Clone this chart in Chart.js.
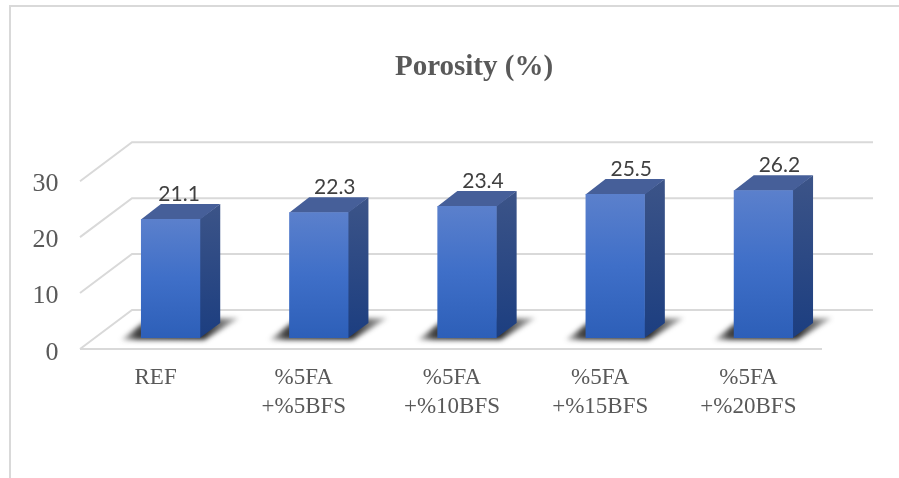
<!DOCTYPE html>
<html>
<head>
<meta charset="utf-8">
<title>Porosity (%)</title>
<script src="https://cdn.jsdelivr.net/npm/chart.js@4/dist/chart.umd.min.js"></script>
<style>
  html, body { margin: 0; padding: 0; background: #fff; overflow: hidden; }
  #frame { position: absolute; left: 9px; top: 5px; right: -5px; bottom: -5px; border: 2px solid #d9d9d9; }
  canvas { position: absolute; left: 0; top: 0; display: block; }
</style>
</head>
<body>
<div id="frame"></div>
<canvas id="canvas" width="899" height="478"></canvas>
<script>
const categories = ['REF', ['%5FA', '+%5BFS'], ['%5FA', '+%10BFS'], ['%5FA', '+%15BFS'], ['%5FA', '+%20BFS']];
const porosity = [21.1, 22.3, 23.4, 25.5, 26.2];
const gridValues = [0, 10, 20, 30];
const titleText = 'Porosity (%)';

const serif = '"Liberation Serif", "Times New Roman", serif';
const depthX = 20, depthY = 15;

// side, top and floor shadow of each bar, plus the receding grid
const fake3d = {
  id: 'fake3d',
  afterLayout(chart) {
    // title sits a bit right of the plot centre in the original
    const t = chart.titleBlock;
    t.left = 474 - t.width / 2;
    t.right = 474 + t.width / 2;
  },
  beforeDatasetsDraw(chart) {
    const ctx = chart.ctx, area = chart.chartArea, g = chart.scales.yGrid;
    ctx.save();
    ctx.strokeStyle = '#d9d9d9';
    ctx.lineWidth = 2;
    gridValues.forEach(v => {
      const yBack = g.getPixelForValue(v) - 28, yFront = g.getPixelForValue(v) + 11;
      ctx.beginPath();
      ctx.moveTo(area.left - 16.5, yFront);
      ctx.lineTo(area.left + 35.5, yBack);
      ctx.lineTo(area.right + 35.5, yBack);
      ctx.stroke();
      if (v === 0) {
        ctx.beginPath();
        ctx.moveTo(area.left - 16.5, yFront);
        ctx.lineTo(area.right - 15.5, yFront);
        ctx.stroke();
      }
    });
    ctx.restore();

    chart.getDatasetMeta(0).data.forEach(bar => {
      const l = bar.x - bar.width / 2, r = bar.x + bar.width / 2, top = bar.y, base = bar.base;
      const shadow = ctx.createLinearGradient(l - 22, 0, r + 40, 0);
      shadow.addColorStop(0, 'rgba(30,30,30,0.1)');
      shadow.addColorStop(0.15, 'rgba(30,30,30,0.85)');
      shadow.addColorStop(0.7, 'rgba(30,30,30,0.95)');
      shadow.addColorStop(1, 'rgba(30,30,30,0.25)');
      ctx.save();
      ctx.filter = 'blur(2.5px)';
      ctx.fillStyle = shadow;
      ctx.beginPath();
      ctx.moveTo(l - 20, base + 2);
      ctx.lineTo(l + 6, base - 18);
      ctx.lineTo(r + 39, base - 20);
      ctx.lineTo(r + 4, base + 2);
      ctx.closePath();
      ctx.fill();
      ctx.restore();

      const side = ctx.createLinearGradient(0, top - depthY, 0, base);
      side.addColorStop(0, '#3c5488');
      side.addColorStop(1, '#1c3e80');
      ctx.fillStyle = side;
      ctx.beginPath();
      ctx.moveTo(r - 0.5, top);
      ctx.lineTo(r + depthX, top - depthY);
      ctx.lineTo(r + depthX, base - depthY);
      ctx.lineTo(r - 0.5, base);
      ctx.closePath();
      ctx.fill();

      ctx.fillStyle = '#465f99';
      ctx.beginPath();
      ctx.moveTo(l, top + 0.5);
      ctx.lineTo(l + depthX, top - depthY);
      ctx.lineTo(r + depthX, top - depthY);
      ctx.lineTo(r, top + 0.5);
      ctx.closePath();
      ctx.fill();
    });
  },
  afterDatasetsDraw(chart) {
    const ctx = chart.ctx;
    ctx.save();
    ctx.font = '21px Lato, sans-serif';
    ctx.fillStyle = '#404040';
    ctx.textAlign = 'center';
    ctx.textBaseline = 'middle';
    chart.getDatasetMeta(0).data.forEach((bar, i) => {
      ctx.fillText(porosity[i].toFixed(1), bar.x + (i === 0 ? 8.5 : 16), bar.y - 25);
    });
    ctx.restore();
  }
};

function frontGradient(c) {
  const chart = c.chart, y = chart.scales.y;
  if (!y || c.dataIndex === undefined) return '#3c6cc6';
  const y0 = y.getPixelForValue(porosity[c.dataIndex]), y1 = y.getPixelForValue(0);
  if (!isFinite(y0) || !isFinite(y1)) return '#3c6cc6';
  const g = chart.ctx.createLinearGradient(0, y0, 0, y1);
  g.addColorStop(0, '#5b80cc');
  g.addColorStop(0.5, '#3f6fc8');
  g.addColorStop(1, '#2d5fb8');
  return g;
}

new Chart(document.getElementById('canvas'), {
  type: 'bar',
  data: {
    labels: categories,
    datasets: [{
      label: titleText,
      data: porosity,
      backgroundColor: frontGradient,
      borderWidth: 0,
      barPercentage: 0.4,
      categoryPercentage: 1
    }]
  },
  plugins: [fake3d],
  options: {
    responsive: false,
    animation: false,
    layout: { autoPadding: false, padding: { left: 0, right: 61.5, top: 0, bottom: 0 } },
    plugins: {
      legend: { display: false },
      tooltip: { enabled: false },
      title: {
        display: true,
        text: titleText,
        color: '#595959',
        font: { family: serif, size: 29, weight: 'bold', lineHeight: 1.2 },
        padding: { top: 50, bottom: 83.9 }
      }
    },
    scales: {
      x: {
        grid: { display: false },
        border: { display: false },
        afterFit: s => { s.height = 140; },
        ticks: {
          color: '#595959',
          font: { family: serif, size: 23, lineHeight: 1.26 },
          padding: 17,
          labelOffset: -15,
          maxRotation: 0,
          autoSkip: false
        }
      },
      y: {
        min: 0,
        max: 30,
        grid: { display: false },
        border: { display: false },
        afterFit: s => { s.width = 96.5; },
        ticks: {
          stepSize: 10,
          color: '#595959',
          font: { family: serif, size: 26 },
          padding: 30,
          labelOffset: 15
        }
      },
      // front/back grid spacing differs slightly from the bar scale
      yGrid: { axis: 'y', display: false, min: 0, max: 30.27 }
    }
  }
});
</script>
</body>
</html>
